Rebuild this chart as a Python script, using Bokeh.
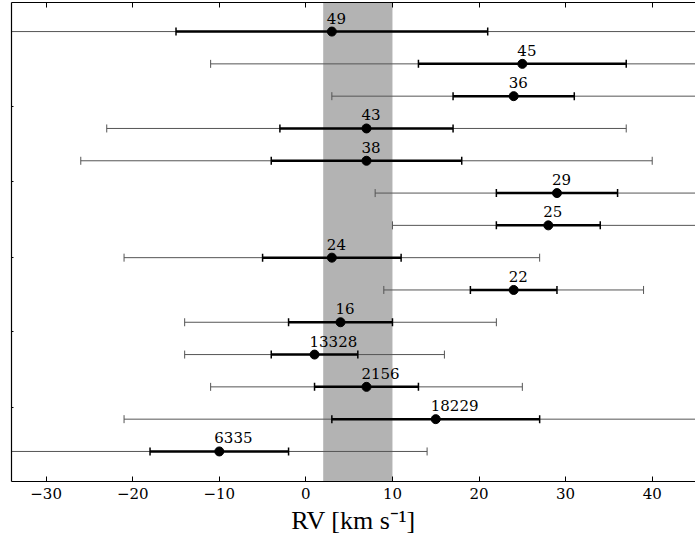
from bokeh.plotting import figure
from bokeh.models import (ColumnDataSource, Whisker, TeeHead, BoxAnnotation, LinearAxis,
                          FixedTicker, Range1d)
from bokeh.core.properties import value
from bokeh.embed import file_html
from bokeh.resources import INLINE

# rows from top to bottom
names = ["49", "45", "36", "43", "38", "29", "25", "24", "22", "16", "13328", "2156", "18229", "6335"]
rv = [3, 25, 24, 7, 7, 29, 28, 3, 24, 4, 1, 7, 15, -10]
err_inner = [18, 12, 7, 10, 11, 7, 6, 8, 5, 6, 5, 6, 12, 8]
err_outer = [54, 36, 21, 30, 33, 21, 18, 24, 15, 18, 15, 18, 36, 24]
band = (2, 10)
x_ticks = [-30, -20, -10, 0, 10, 20, 30, 40]
y_ticks = [1.37, 3.70, 6.02, 8.35, 10.68]

SERIF = "DejaVu Serif"
LABEL_FONT = "Liberation Serif"

n = len(names)
ypos = [n - 1 - i for i in range(n)]

src = ColumnDataSource(dict(
    x=rv, y=ypos, name=names,
    lo1=[v - e for v, e in zip(rv, err_inner)], hi1=[v + e for v, e in zip(rv, err_inner)],
    lo3=[v - e for v, e in zip(rv, err_outer)], hi3=[v + e for v, e in zip(rv, err_outer)],
))

p = figure(frame_width=684, frame_height=479, output_backend="svg", toolbar_location=None,
           x_range=Range1d(-34, 45), y_range=Range1d(-0.93, 13.9),
           min_border_left=11, min_border_right=0, min_border_top=2, min_border_bottom=0)
p.outline_line_color = None
p.grid.visible = False
p.background_fill_color = "white"

p.add_layout(BoxAnnotation(left=band[0], right=band[1], fill_color="#b3b3b3", fill_alpha=1.0,
                           line_color=None, level="underlay"))

thin = Whisker(base="y", lower="lo3", upper="hi3", dimension="width", source=src,
               line_color="#555555", line_width=1, level="underlay",
               lower_head=TeeHead(size=8, line_color="#555555", line_width=1),
               upper_head=TeeHead(size=8, line_color="#555555", line_width=1))
thick = Whisker(base="y", lower="lo1", upper="hi1", dimension="width", source=src,
                line_color="black", line_width=2.5, level="underlay",
                lower_head=TeeHead(size=8, line_color="black", line_width=1.5),
                upper_head=TeeHead(size=8, line_color="black", line_width=1.5))
p.add_layout(thin)
p.add_layout(thick)

p.scatter("x", "y", source=src, size=9, color="black")
p.text("x", "y", text="name", source=src, text_font=value(SERIF), text_font_size="15px",
       x_offset=-5, y_offset=-8, text_align="left", text_baseline="bottom", text_color="black")

xa = p.xaxis[0]
xa.ticker = FixedTicker(ticks=x_ticks)
xa.major_tick_in = 5
xa.major_tick_out = 0
xa.minor_tick_line_color = None
xa.axis_line_width = 1.2
xa.major_label_text_font = SERIF
xa.major_label_text_font_size = "15px"
xa.major_label_text_color = "black"
xa.major_label_standoff = 6
xa.axis_label = "RV [km s\u207b\u00b9]"
xa.axis_label_text_font = LABEL_FONT
xa.axis_label_text_font_style = "normal"
xa.axis_label_text_font_size = "26px"
xa.axis_label_text_color = "black"
xa.axis_label_standoff = 4

top = LinearAxis(ticker=FixedTicker(ticks=x_ticks), major_tick_in=5, major_tick_out=0,
                 minor_tick_line_color=None, major_label_text_font_size="1px",
                 major_label_overrides={t: "" for t in x_ticks},
                 major_label_standoff=0, axis_line_width=1.2)
p.add_layout(top, "above")

ya = p.yaxis[0]
ya.ticker = FixedTicker(ticks=y_ticks)
ya.major_tick_in = 2
ya.major_tick_out = 0
ya.minor_tick_line_color = None
ya.major_label_text_font_size = "1px"
ya.major_label_overrides = {t: "" for t in y_ticks}
ya.major_label_standoff = 0
ya.axis_line_width = 1.2

open("out.html", "w").write(file_html(p, INLINE))
